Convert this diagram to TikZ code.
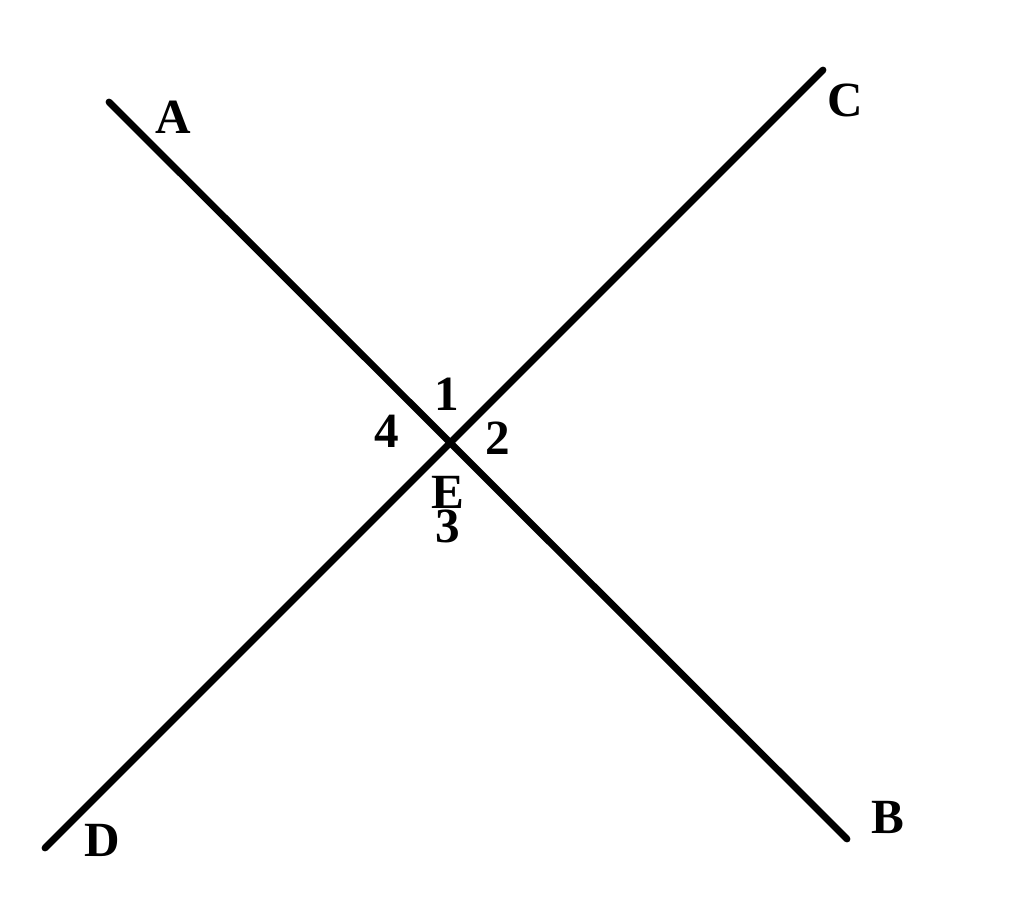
\documentclass[tikz,border=0pt]{standalone}
\usepackage{fontspec}
\setmainfont{Liberation Serif}
\usetikzlibrary{intersections}
\newcommand{\ptlabel}[3]{ % Parameters: name, position, text
  \node[ptlab] (#1) at (#2) {#3};
}
\tikzset{
  ptlab/.style={inner sep=0pt,font=\fontsize{28}{30}\selectfont\bfseries},
  thickline/.style={draw=black,line width=3.9pt,line cap=round}
}
\begin{document}
\begin{tikzpicture}[x=0.02cm,y=-0.02cm]
    \useasboundingbox (0,0) rectangle (1024,923);
    \coordinate (a) at (109,102);
    \coordinate (b) at (847,839);
    \coordinate (c) at (823,70);
    \coordinate (d) at (45,848);
    \path[name path=ab] (a) -- (b);
    \path[name path=cd] (c) -- (d);
    \path[name intersections={of=ab and cd,by=e}];
    \draw[thickline] (a) -- (b);
    \draw[thickline] (c) -- (d);
    \ptlabel{la}{173,117}{A}
    \ptlabel{lb}{888,817}{B}
    \ptlabel{lc}{845,100}{C}
    \ptlabel{ld}{102,840}{D}
    \ptlabel{le}{448,492}{E}
    \ptlabel{l1}{447,394}{1}
    \ptlabel{l2}{498,438}{2}
    \ptlabel{l3}{448,526}{3}
    \ptlabel{l4}{387,431}{4}
  \end{tikzpicture}
\end{document}
